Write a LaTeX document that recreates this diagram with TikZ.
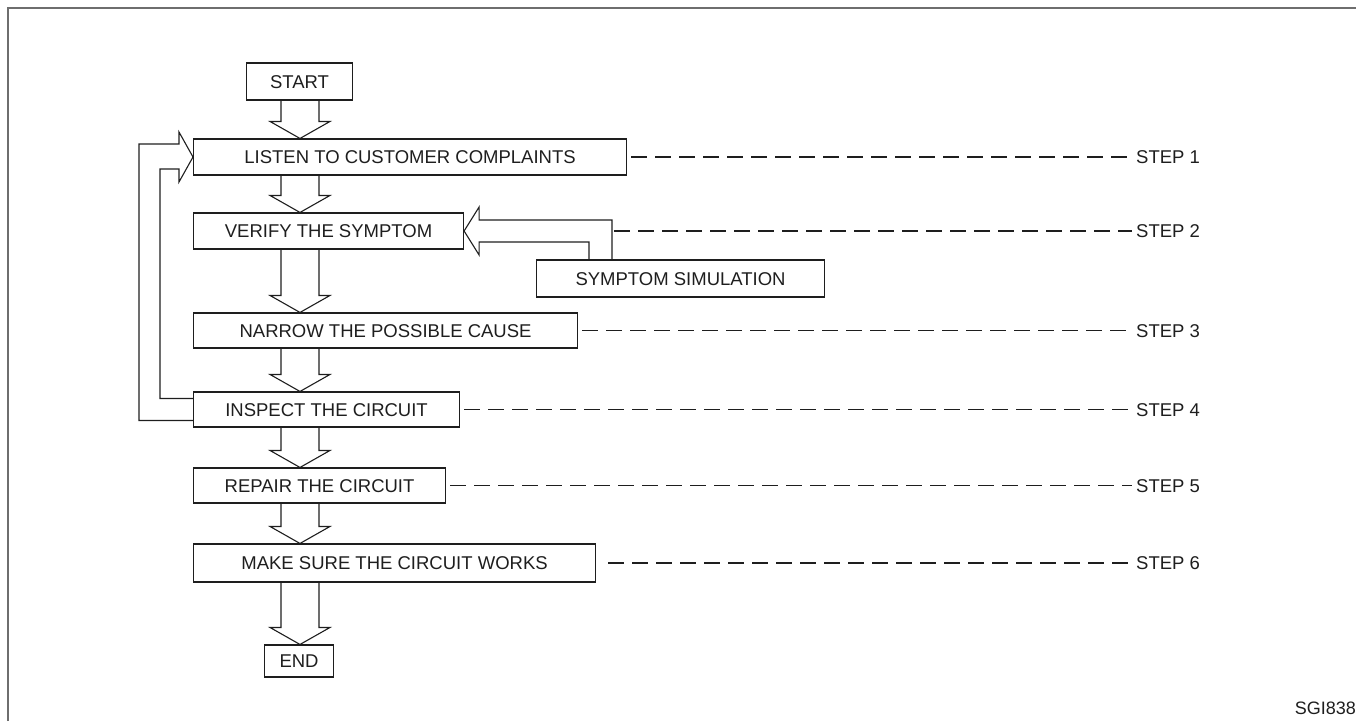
\documentclass[tikz,border=0pt]{standalone}
\usepackage{fontspec}
\setmainfont{Liberation Sans}
\usepackage{tikz}
\usetikzlibrary{calc,positioning}
\definecolor{ink}{HTML}{1E1E1E}
\definecolor{framegray}{HTML}{6E6E6E}

% hollow block arrow straight down the flow axis
\newcommand{\downblock}[2]{%
  \draw[hollow] ($(axis |- #1.south)+(-19,0)$) -- ($(axis |- #2.north)+(-19,-17)$)
    -- ++(-11,0) -- (axis |- #2.north) -- ($(axis |- #2.north)+(30,-17)$)
    -- ++(-11,0) -- ($(axis |- #1.south)+(19,0)$);}

\begin{document}
\begin{tikzpicture}[
    x=1pt,y=-1pt,
    stepbox/.style={draw=ink,line width=1.1pt,inner sep=0pt,minimum height=36pt,
      anchor=west,text=ink,text height=13.2pt,text depth=0pt,
      font=\fontsize{18.5}{20}\selectfont},
    hollow/.style={draw=ink,line width=1.1pt,line join=miter},
    leader/.style={draw=ink,line width=1.1pt,dash pattern=on 16pt off 8pt},
    steplabel/.style={anchor=west,inner xsep=4pt,inner ysep=0pt,text=ink,
      text height=13.2pt,text depth=0pt,font=\fontsize{18.5}{20}\selectfont},
  ]
    \useasboundingbox (0,0) rectangle (1356,721);
    \draw[framegray,line width=2pt] (7.5,721) -- (7.5,7.5) -- (1356,7.5);
    \coordinate (axis) at (300,0);

    \node[stepbox,minimum width=106pt,minimum height=37pt] (start) at (246,81.5) {START};
    \node[stepbox,minimum width=433pt] (listen) at (193,157) {LISTEN TO CUSTOMER COMPLAINTS};
    \node[stepbox,minimum width=270pt] (verify) at (193,231) {VERIFY THE SYMPTOM};
    \node[stepbox,minimum width=288pt,minimum height=37pt] (sim) at (536,278.5) {SYMPTOM SIMULATION};
    \node[stepbox,minimum width=384pt,minimum height=35pt] (narrow) at (193,330.5) {NARROW THE POSSIBLE CAUSE};
    \node[stepbox,minimum width=266pt,minimum height=35pt] (inspect) at (193,409.5) {INSPECT THE CIRCUIT};
    \node[stepbox,minimum width=252pt,minimum height=35pt] (repair) at (193,485.5) {REPAIR THE CIRCUIT};
    \node[stepbox,minimum width=402pt,minimum height=38pt] (works) at (193,563) {MAKE SURE THE CIRCUIT WORKS};
    \node[stepbox,minimum width=69pt,minimum height=32pt] (finish) at (264,661) {END};

    \downblock{start}{listen}
    \downblock{listen}{verify}
    \downblock{verify}{narrow}
    \downblock{narrow}{inspect}
    \downblock{inspect}{repair}
    \downblock{repair}{works}
    \downblock{works}{finish}

    % simulation feeds back into the symptom check
    \draw[hollow] ($(sim.north west)+(53,0)$) |- ($(verify.east)+(15,11)$) -- ++(0,13)
      -- (verify.east) -- ($(verify.east)+(15,-24)$) -- ++(0,13) -| ($(sim.north west)+(76,0)$);

    % inspection loops back to the customer
    \draw[hollow] ($(inspect.west)+(0,11)$) -| ($(listen.west)+(-54,-13)$) -- ++(40,0) -- ++(0,-12)
      -- (listen.west) -- ($(listen.west)+(-14,25)$) -- ++(0,-13) -| ($(inspect.west)+(-33,-11)$) -- ++(33,0);

    \node[steplabel] (step1) at (1132,157) {STEP 1};
    \node[steplabel] (step2) at (1132,231) {STEP 2};
    \node[steplabel] (step3) at (1132,330.5) {STEP 3};
    \node[steplabel] (step4) at (1132,409.5) {STEP 4};
    \node[steplabel] (step5) at (1132,485.5) {STEP 5};
    \node[steplabel] (step6) at (1132,563) {STEP 6};
    \draw[leader] ($(listen.east)+(4,0)$) -- (step1.west);
    \draw[leader] ($(sim.north west |- verify.east)+(78,0)$) -- (step2.west);
    \draw[leader] ($(narrow.east)+(4,0)$) -- (step3.west);
    \draw[leader] ($(inspect.east)+(4,0)$) -- (step4.west);
    \draw[leader] ($(repair.east)+(4,0)$) -- (step5.west);
    \draw[leader] ($(works.east)+(12,0)$) -- (step6.west);

    \node[anchor=base east,inner sep=0pt,text=ink,font=\fontsize{18}{20}\selectfont] (code) at (1356,714) {SGI838};
  \end{tikzpicture}
\end{document}
